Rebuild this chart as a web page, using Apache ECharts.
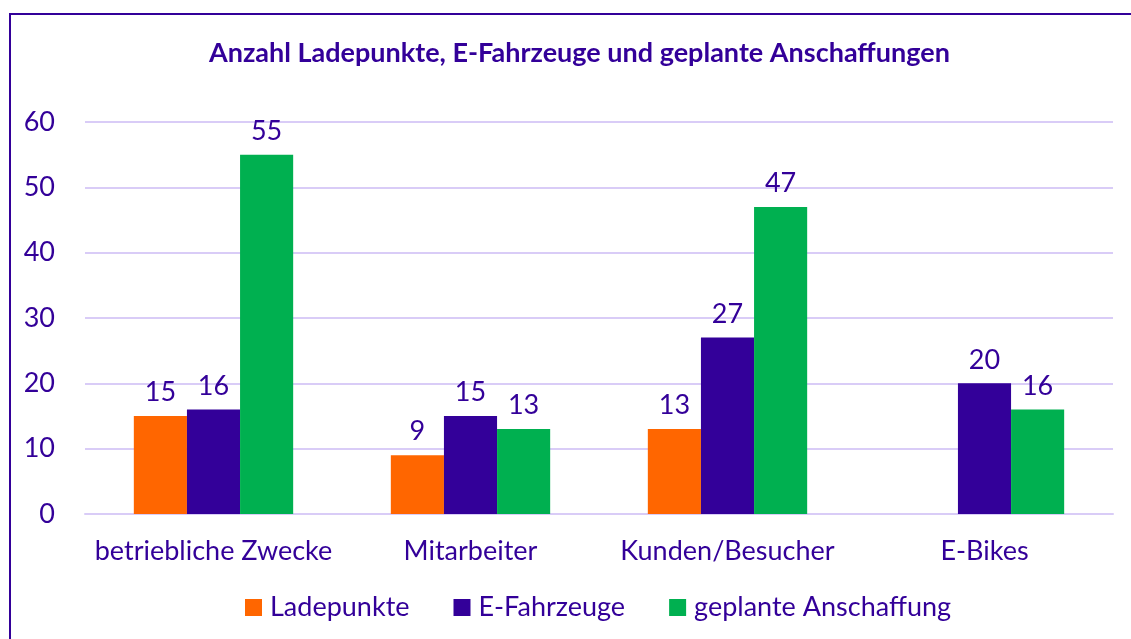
<!DOCTYPE html>
<html>
<head>
<meta charset="utf-8">
<script src="https://cdn.jsdelivr.net/npm/echarts@6/dist/echarts.min.js"></script>
<style>
body { margin:0; background:#fff; }
#frame { position:absolute; left:9px; top:13px; width:1200px; height:700px; border-left:2px solid #330099; border-top:2px solid #330099; }
#main { position:absolute; left:0; top:0; width:1131px; height:639px; }
</style>
</head>
<body>
<div id="frame"></div>
<div id="main"></div>
<script>
var categories = ['betriebliche Zwecke', 'Mitarbeiter', 'Kunden/Besucher', 'E-Bikes'];
var ladepunkte = [15, 9, 13, null];
var eFahrzeuge = [16, 15, 27, 20];
var geplant = [55, 13, 47, 16];
var seriesNames = ['Ladepunkte', 'E-Fahrzeuge', 'geplante Anschaffung'];

var textColor = '#330099';
var fontFam = 'Lato, "Open Sans", sans-serif';

function barSeries(name, data, color) {
    return {
        name: name,
        type: 'bar',
        data: data,
        barGap: 0,
        barCategoryGap: '38%',
        itemStyle: { color: color },
        label: {
            show: true,
            position: 'top',
            distance: 10,
            color: textColor,
            fontSize: 27,
            fontFamily: fontFam
        }
    };
}

var option = {
    animation: false,
    title: {
        text: 'Anzahl Ladepunkte, E-Fahrzeuge und geplante Anschaffungen',
        left: 204,
        top: 35,
        textStyle: { color: textColor, fontSize: 27, fontWeight: 'bold', fontFamily: fontFam }
    },
    legend: {
        data: seriesNames,
        bottom: 13,
        left: 240,
        itemWidth: 17,
        itemHeight: 17,
        itemGap: 44,
        icon: 'rect',
        textStyle: { color: textColor, fontSize: 27, fontFamily: fontFam, padding: [0, 0, 0, 3] }
    },
    grid: { left: 85, right: 18, top: 122, bottom: 125 },
    xAxis: {
        type: 'category',
        data: categories,
        axisLine: { show: true, lineStyle: { color: '#d9ccf7', width: 2 } },
        axisTick: { show: false },
        axisLabel: { interval: 0, color: textColor, fontSize: 27, fontFamily: fontFam, margin: 24 }
    },
    yAxis: {
        type: 'value',
        min: 0,
        max: 60,
        interval: 10,
        axisLine: { show: false },
        axisTick: { show: false },
        splitLine: { lineStyle: { color: '#d9ccf7', width: 2 } },
        axisLabel: { color: textColor, fontSize: 27, fontFamily: fontFam, margin: 30 }
    },
    series: [
        barSeries(seriesNames[0], ladepunkte, '#ff6600'),
        barSeries(seriesNames[1], eFahrzeuge, '#330099'),
        barSeries(seriesNames[2], geplant, '#00b050')
    ]
};

var myChart = echarts.init(document.getElementById('main'));
myChart.setOption(option);
</script>
</body>
</html>
